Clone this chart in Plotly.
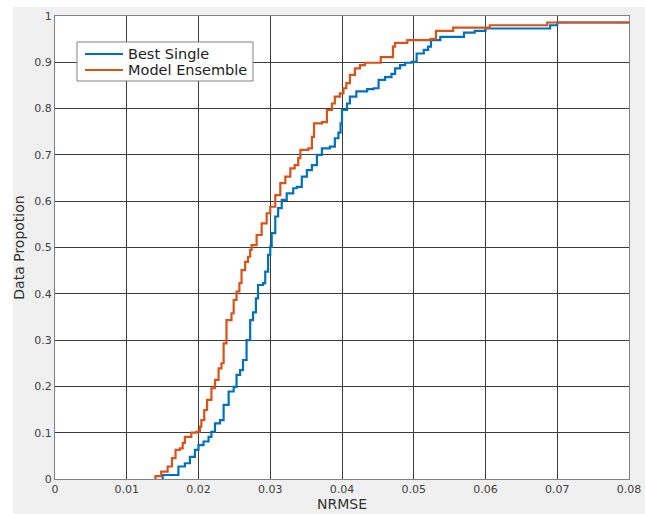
import plotly.graph_objects as go

# ---- data ----
single_x = [0.01496, 0.0150, 0.0170, 0.0172, 0.0181, 0.0188, 0.0195, 0.0200, 0.0207, 0.0214,
            0.0218, 0.0223, 0.0230, 0.0235, 0.0242, 0.0249, 0.0253, 0.0258, 0.0262, 0.0267,
            0.0272, 0.0276, 0.0280, 0.0283, 0.0290, 0.0293, 0.0297, 0.0300, 0.0302, 0.0307,
            0.0311, 0.0316, 0.0323, 0.0332, 0.0337, 0.0344, 0.0351, 0.0358, 0.0365, 0.0372,
            0.0383, 0.0390, 0.0395, 0.0398, 0.0400, 0.0407, 0.0411, 0.0420, 0.0435, 0.0444,
            0.0451, 0.0460, 0.0469, 0.0474, 0.0481, 0.0488, 0.0497, 0.0504, 0.0514, 0.0520,
            0.0524, 0.0537, 0.0570, 0.0585, 0.0600, 0.0690, 0.0700, 0.0800]
single_y = [0.0, 0.0086, 0.0086, 0.027, 0.034, 0.048, 0.063, 0.073, 0.081, 0.091,
            0.102, 0.120, 0.127, 0.160, 0.189, 0.199, 0.225, 0.235, 0.257, 0.300,
            0.343, 0.360, 0.390, 0.419, 0.423, 0.448, 0.484, 0.502, 0.531, 0.567,
            0.585, 0.603, 0.617, 0.628, 0.631, 0.653, 0.667, 0.678, 0.700, 0.714,
            0.718, 0.736, 0.748, 0.768, 0.797, 0.811, 0.826, 0.837, 0.842, 0.844,
            0.862, 0.868, 0.875, 0.887, 0.894, 0.899, 0.901, 0.919, 0.927, 0.934,
            0.948, 0.955, 0.964, 0.968, 0.973, 0.980, 0.986, 0.986]

ens_x = [0.01398, 0.0140, 0.0148, 0.0157, 0.0163, 0.0168, 0.0174, 0.0178, 0.0181, 0.0190,
         0.0197, 0.0202, 0.0204, 0.0208, 0.0212, 0.0218, 0.0223, 0.0228, 0.0232, 0.0235,
         0.0239, 0.0246, 0.0249, 0.0253, 0.0257, 0.0260, 0.0265, 0.0269, 0.0272, 0.0274,
         0.0281, 0.0288, 0.0295, 0.0300, 0.0307, 0.0314, 0.0321, 0.0328, 0.0334, 0.0339,
         0.0342, 0.0353, 0.0358, 0.0361, 0.0372, 0.0379, 0.0386, 0.0390, 0.0397, 0.0402,
         0.0406, 0.0411, 0.0418, 0.0425, 0.0432, 0.0454, 0.0471, 0.0474, 0.0491, 0.0523,
         0.0531, 0.0555, 0.0606, 0.0686, 0.0800]
ens_y = [0.0, 0.006, 0.016, 0.027, 0.045, 0.063, 0.066, 0.078, 0.091, 0.100,
         0.102, 0.113, 0.127, 0.149, 0.171, 0.196, 0.214, 0.239, 0.250, 0.293,
         0.343, 0.358, 0.387, 0.405, 0.423, 0.451, 0.469, 0.480, 0.495, 0.505,
         0.527, 0.552, 0.574, 0.588, 0.613, 0.639, 0.653, 0.671, 0.678, 0.693,
         0.711, 0.714, 0.739, 0.768, 0.771, 0.797, 0.811, 0.826, 0.833, 0.844,
         0.855, 0.873, 0.887, 0.894, 0.899, 0.911, 0.934, 0.942, 0.948, 0.950,
         0.968, 0.975, 0.980, 0.986, 0.986]

series_names = ["Best Single", "Model Ensemble"]

x_ticks = [0, 0.01, 0.02, 0.03, 0.04, 0.05, 0.06, 0.07, 0.08]
x_tick_labels = ["0", "0.01", "0.02", "0.03", "0.04", "0.05", "0.06", "0.07", "0.08"]
y_ticks = [0, 0.1, 0.2, 0.3, 0.4, 0.5, 0.6, 0.7, 0.8, 0.9, 1]
y_tick_labels = ["0", "0.1", "0.2", "0.3", "0.4", "0.5", "0.6", "0.7", "0.8", "0.9", "1"]

BLUE = "#0072BD"
ORANGE = "#D95319"
FONT = "DejaVu Sans"
colors = [BLUE, ORANGE]

fig = go.Figure()
fig.add_trace(go.Scatter(x=single_x, y=single_y, mode="lines", name=series_names[0],
                         line=dict(color=BLUE, width=2.2, shape="hv"), showlegend=False))
fig.add_trace(go.Scatter(x=ens_x, y=ens_y, mode="lines", name=series_names[1],
                         line=dict(color=ORANGE, width=2.2, shape="hv"), showlegend=False))

W, H = 645, 514
L, R, T, B = 55, 16, 16, 35
pw, ph = W - L - R, H - T - B

def px2paper_x(px):
    return (px - L) / pw

def px2paper_y(py):
    return 1 - (py - T) / ph

axis_common = dict(showline=True, linecolor="#808080", linewidth=1, mirror=True,
                   showgrid=True, gridcolor="#3c3c3c", gridwidth=1, zeroline=False,
                   ticks="", tickfont=dict(family=FONT, size=11, color="#404040"))

shapes = [
    dict(type="rect", xref="paper", yref="paper", layer="below",
         x0=px2paper_x(0), x1=px2paper_x(13), y0=px2paper_y(H), y1=px2paper_y(0),
         fillcolor="white", line=dict(width=0)),
    dict(type="rect", xref="paper", yref="paper", layer="below",
         x0=px2paper_x(0), x1=px2paper_x(W), y0=px2paper_y(7), y1=px2paper_y(0),
         fillcolor="white", line=dict(width=0)),
    # legend box
    dict(type="rect", xref="paper", yref="paper", layer="above",
         x0=px2paper_x(77), x1=px2paper_x(253), y0=px2paper_y(81), y1=px2paper_y(42),
         fillcolor="white", line=dict(color="#808080", width=1)),
]
annotations = []
legend_rows_py = [54, 70]
for name, col, py in zip(series_names, colors, legend_rows_py):
    shapes.append(dict(type="line", xref="paper", yref="paper", layer="above",
                       x0=px2paper_x(85), x1=px2paper_x(123),
                       y0=px2paper_y(py), y1=px2paper_y(py),
                       line=dict(color=col, width=2.2)))
    annotations.append(dict(xref="paper", yref="paper", x=px2paper_x(126), y=px2paper_y(py),
                            xanchor="left", yanchor="middle", showarrow=False, text=name,
                            font=dict(family=FONT, size=14.5, color="#222222")))

fig.update_layout(
    width=W, height=H,
    margin=dict(l=L, r=R, t=T, b=B, autoexpand=False),
    paper_bgcolor="#F0F0F0",
    plot_bgcolor="white",
    font=dict(family=FONT, color="#333333"),
    xaxis=dict(range=[0, 0.08], tickvals=x_ticks, ticktext=x_tick_labels,
               title=dict(text="NRMSE", font=dict(family=FONT, size=14, color="#333333"), standoff=0),
               automargin=False, **axis_common),
    yaxis=dict(range=[0, 1], tickvals=y_ticks, ticktext=y_tick_labels,
               title=dict(text="Data Propotion", font=dict(family=FONT, size=14, color="#333333"), standoff=6),
               automargin=False, **axis_common),
    showlegend=False,
    shapes=shapes,
    annotations=annotations,
)

fig.write_html("out.html")
